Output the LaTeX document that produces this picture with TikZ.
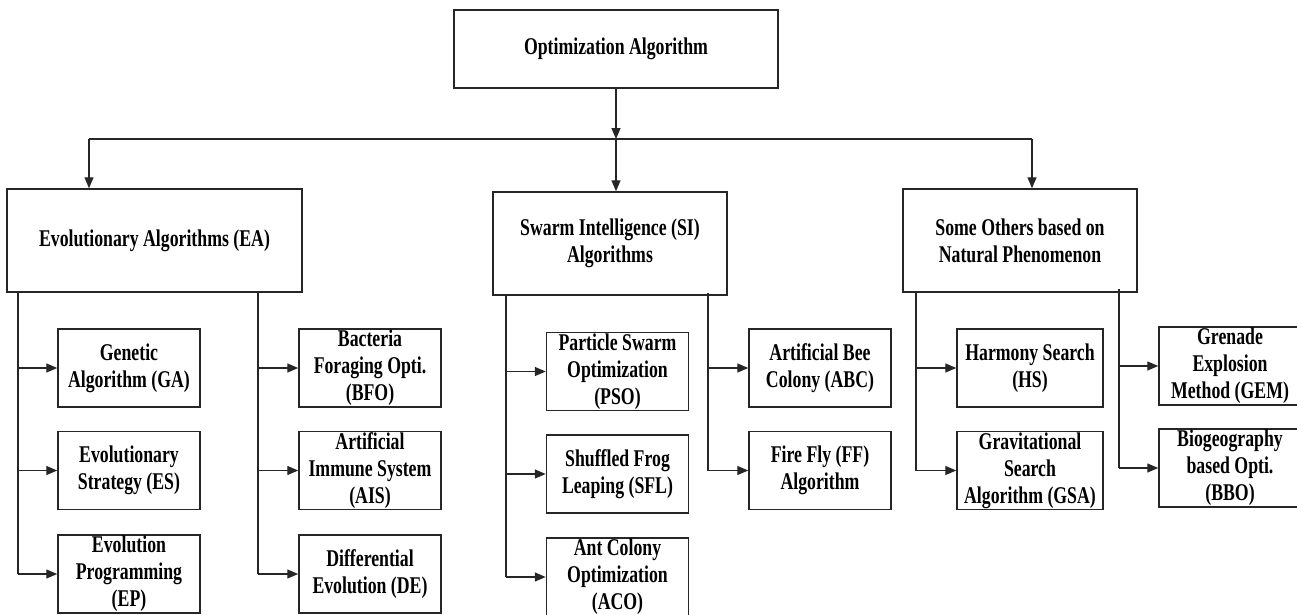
\documentclass[tikz,border=0pt]{standalone}
\usepackage{fontspec}
\setmainfont{Liberation Serif}[FakeStretch=0.74]
\usetikzlibrary{arrows.meta}
\begin{document}
\begin{tikzpicture}[x=1pt,y=-1pt,
  box/.style={draw=black!85, line width=1.5pt, inner sep=0pt, align=center,
    font=\fontsize{24}{27}\selectfont\bfseries},
  sbox/.style={box, minimum width=142pt, minimum height=78pt},
  conn/.style={line width=1.4pt, draw=black!85},
  arr/.style={conn, -{Triangle[length=11pt,width=9pt]}}]
\useasboundingbox (0,0) rectangle (1297,614);
\clip (0,0) rectangle (1297,614);

% main boxes
\node[box, minimum width=324pt, minimum height=78pt] (top) at (616,49) {Optimization Algorithm};
\node[box, minimum width=295pt, minimum height=103pt] (ea) at (154.5,240.5) {Evolutionary Algorithms (EA)};
\node[box, minimum width=234pt, minimum height=103pt] (si) at (610,243.5) {Swarm Intelligence (SI)\\Algorithms};
\node[box, minimum width=234pt, minimum height=103pt] (ot) at (1020,240.5) {Some Others based on\\Natural Phenomenon};

% EA children
\node[sbox] (ga) at (129,368) {Genetic\\Algorithm (GA)};
\node[sbox] (es) at (129,470.5) {Evolutionary\\Strategy (ES)};
\node[sbox] (ep) at (129,574) {Evolution\\Programming\\(EP)};
\node[sbox] (bfo) at (370,368) {Bacteria\\Foraging Opti.\\(BFO)};
\node[sbox] (ais) at (370,470.5) {Artificial\\Immune System\\(AIS)};
\node[sbox] (de) at (370,574) {Differential\\Evolution (DE)};

% SI children
\node[sbox] (pso) at (617.5,371.5) {Particle Swarm\\Optimization\\(PSO)};
\node[sbox] (sfl) at (617.5,474) {Shuffled Frog\\Leaping (SFL)};
\node[sbox] (aco) at (617.5,577) {Ant Colony\\Optimization\\(ACO)};
\node[sbox] (abc) at (820,368) {Artificial Bee\\Colony (ABC)};
\node[sbox] (ff) at (820,470.5) {Fire Fly (FF)\\Algorithm};

% Others children
\node[sbox, minimum width=146pt] (hs) at (1030,368) {Harmony Search\\(HS)};
\node[sbox, minimum width=146pt] (gsa) at (1030,470.5) {Gravitational\\Search\\Algorithm (GSA)};
\node[sbox] (gem) at (1230,366) {Grenade\\Explosion\\Method (GEM)};
\node[sbox] (bbo) at (1230,468) {Biogeography\\based Opti.\\(BBO)};

% top level connectors
\coordinate (hl) at (616,139);
\coordinate (hlL) at (89,139);
\coordinate (hlR) at (1032,139);
\draw[conn] (hlL) -- (hlR);
\draw[arr] (top.south) -- (hl);
\draw[arr] (hlL) -- (hlL |- ea.north);
\draw[arr] (hl) -- (hl |- si.north);
\draw[arr] (hlR) -- (hlR |- ot.north);

% branch spines
\coordinate (eaL) at (18,292);
\coordinate (eaR) at (258,292);
\coordinate (siL) at (506,295);
\coordinate (siR) at (708,293);
\coordinate (otL) at (916,292);
\coordinate (otR) at (1119,289);

\draw[conn] (eaL) -- (eaL |- ep.west);
\draw[arr] (eaL |- ga.west) -- (ga.west);
\draw[arr] (eaL |- es.west) -- (es.west);
\draw[arr] (eaL |- ep.west) -- (ep.west);

\draw[conn] (eaR) -- (eaR |- de.west);
\draw[arr] (eaR |- bfo.west) -- (bfo.west);
\draw[arr] (eaR |- ais.west) -- (ais.west);
\draw[arr] (eaR |- de.west) -- (de.west);

\draw[conn] (siL) -- (siL |- aco.west);
\draw[arr] (siL |- pso.west) -- (pso.west);
\draw[arr] (siL |- sfl.west) -- (sfl.west);
\draw[arr] (siL |- aco.west) -- (aco.west);

\draw[conn] (siR) -- (siR |- ff.west);
\draw[arr] (siR |- abc.west) -- (abc.west);
\draw[arr] (siR |- ff.west) -- (ff.west);

\draw[conn] (otL) -- (otL |- gsa.west);
\draw[arr] (otL |- hs.west) -- (hs.west);
\draw[arr] (otL |- gsa.west) -- (gsa.west);

\draw[conn] (otR) -- (otR |- bbo.west);
\draw[arr] (otR |- gem.west) -- (gem.west);
\draw[arr] (otR |- bbo.west) -- (bbo.west);
\end{tikzpicture}
\end{document}
